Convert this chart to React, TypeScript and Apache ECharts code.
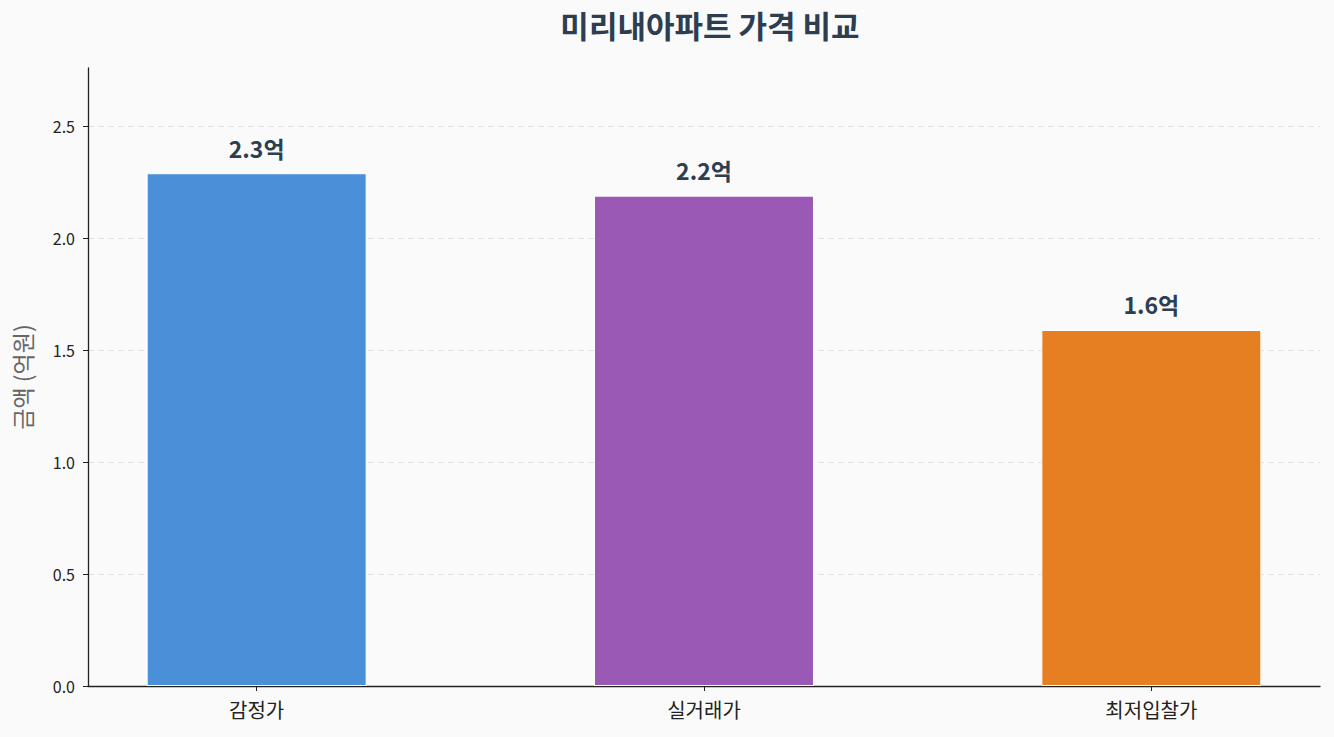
import React, { useEffect, useRef } from 'react';
import * as echarts from 'echarts';

// 카테고리와 값 (억원)
const categories = ['감정가', '실거래가', '최저입찰가'];
const prices = [2.29, 2.19, 1.59];
const barColors = ['#4a90d9', '#9b59b6', '#e67e22'];
const yTicks = [0, 0.5, 1.0, 1.5, 2.0, 2.5];

const FONT = '"Noto Sans CJK KR", "Noto Sans", sans-serif';

const App: React.FC = () => {
  const chartRef = useRef<HTMLDivElement>(null);

  useEffect(() => {
    document.body.style.margin = '0';
    if (!chartRef.current) return;
    const chart = echarts.init(chartRef.current, undefined, { renderer: 'svg' });

    const option = {
      animation: false,
      backgroundColor: '#fafafa',
      textStyle: { fontFamily: FONT },
      title: {
        text: '미리내아파트 가격 비교',
        left: 705,
        top: 4,
        textAlign: 'center',
        textStyle: { fontSize: 31, fontWeight: 'bold', color: '#2c3e50', fontFamily: FONT }
      },
      grid: { left: 88, right: 14, top: 68, bottom: 51 },
      xAxis: {
        type: 'value',
        min: -0.377,
        max: 2.377,
        axisLine: { show: true, onZero: false, lineStyle: { color: '#222', width: 1.3 } },
        axisTick: { show: true, customValues: [0, 1, 2], length: 5, lineStyle: { color: '#222' } },
        axisLabel: {
          customValues: [0, 1, 2],
          formatter: (v: number) => categories[Math.round(v)] ?? '',
          color: '#222',
          fontSize: 20,
          margin: 13,
          fontFamily: FONT
        },
        splitLine: { show: false }
      },
      yAxis: {
        type: 'value',
        min: 0,
        max: 2.76,
        name: '금액 (억원)',
        nameLocation: 'middle',
        nameGap: 55,
        nameTextStyle: { fontSize: 23, color: '#666', fontFamily: FONT },
        axisLine: { show: true, onZero: false, lineStyle: { color: '#222', width: 1.3 } },
        axisTick: { show: true, customValues: yTicks, length: 5, lineStyle: { color: '#222' } },
        axisLabel: {
          customValues: yTicks,
          formatter: (v: number) => v.toFixed(1),
          color: '#222',
          fontSize: 16,
          margin: 13,
          fontFamily: FONT
        },
        splitLine: {
          show: true,
          lineStyle: { color: '#e2e2e2', type: [6, 4], width: 1 }
        }
      },
      series: [
        {
          type: 'bar',
          barWidth: 220,
          data: prices.map((p, i) => ({
            value: [i, p],
            itemStyle: { color: barColors[i], borderColor: '#ffffff', borderWidth: 1 }
          })),
          label: {
            show: true,
            position: 'top',
            distance: 14,
            formatter: (p: any) => `${p.value[1].toFixed(1)}억`,
            fontSize: 23,
            fontWeight: 'bold',
            color: '#2c3e50',
            fontFamily: FONT
          }
        }
      ]
    };

    chart.setOption(option);

    const handleResize = () => chart.resize();
    window.addEventListener('resize', handleResize);
    return () => {
      window.removeEventListener('resize', handleResize);
      chart.dispose();
    };
  }, []);

  return <div ref={chartRef} style={{ width: 1334, height: 737 }} />;
};

export default App;
